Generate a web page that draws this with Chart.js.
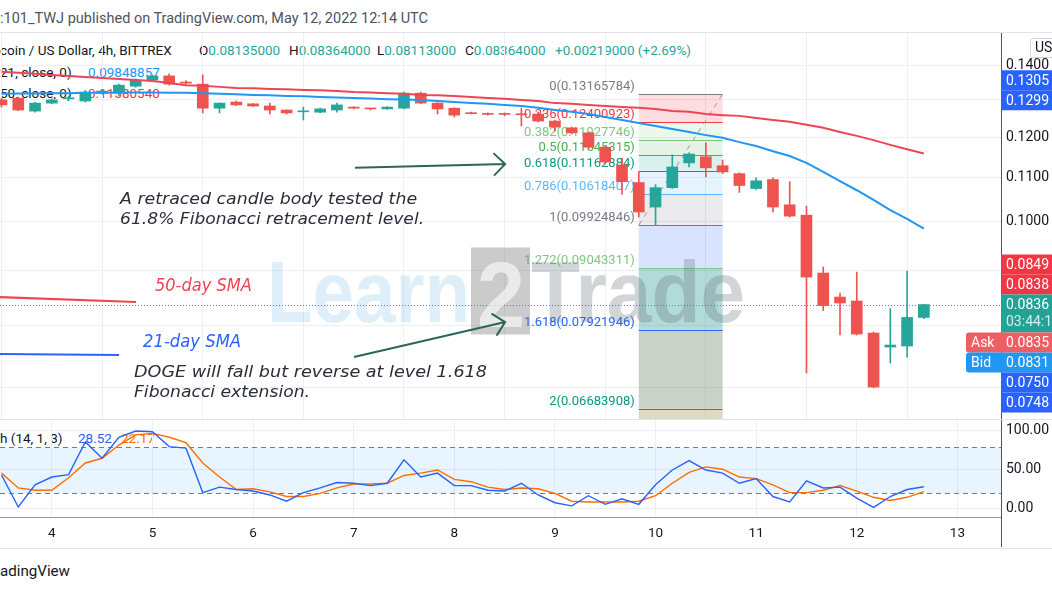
<!DOCTYPE html>
<html>
<head>
<meta charset="utf-8">
<title>DOGE / US Dollar, 4h</title>
<script src="https://cdn.jsdelivr.net/npm/chart.js@4.4.1/dist/chart.umd.min.js"></script>
<style>
  html, body { margin: 0; padding: 0; background: #fff; }
  #page { position: relative; width: 1052px; height: 592px; overflow: hidden;
          font-family: Roboto, "Noto Sans", sans-serif; color: #131722; }
  .t { position: absolute; white-space: nowrap; line-height: 1; font-size: 13.5px; }
  .hl { position: absolute; left: 0; width: 1052px; height: 1px; background: #e0e3eb; }
  canvas { position: absolute; left: 0; }
  .up { color: #26a69a; }
</style>
</head>
<body>
<div id="page">
  <div class="t" id="hdr" style="left:0;top:11px;font-size:14px;color:#50535e;transform-origin:0 0">:101_TWJ published on TradingView.com, May 12, 2022 12:14 UTC</div>
  <div class="hl" style="top:32px"></div>

  <!-- legende oben links -->
  <div class="t" style="left:0;top:44px">coin / US Dollar, 4h, BITTREX</div>
  <div class="t" style="left:199px;top:44px">O<span class="up">0.08135000</span></div>
  <div class="t" style="left:289px;top:44px">H<span class="up">0.08364000</span></div>
  <div class="t" style="left:377px;top:44px">L<span class="up">0.08113000</span></div>
  <div class="t" style="left:465px;top:44px">C<span class="up">0.08364000</span></div>
  <div class="t up" style="left:555px;top:44px">+0.00219000 (+2.69%)</div>
  <div class="t" style="left:0;top:66px">21, close, 0)</div>
  <div class="t" style="left:88px;top:66px;color:#2196f3">0.09848857</div>
  <div class="t" style="left:0;top:87px">50, close, 0)</div>
  <div class="t" style="left:88px;top:87px;color:#f23645">0.11580540</div>

  <div class="t" style="left:0;top:432px">h (14, 1, 3)</div>
  <div class="t" style="left:78px;top:432px;color:#2962ff">28.52</div>
  <div class="t" style="left:121px;top:432px;color:#ff6d00">22.17</div>

  <canvas id="price" width="1052" height="386" style="top:33px"></canvas>
  <div class="hl" style="top:419px"></div>
  <canvas id="stoch" width="1052" height="130" style="top:419px"></canvas>
  <div style="position:absolute;left:1001px;top:517px;width:1px;height:30px;background:#50535e"></div>
  <div class="hl" style="top:548px"></div>
  <div class="t" id="ftr" style="left:0;top:564px;font-size:15px;transform-origin:0 0">adingView</div>
</div>

<script>
/* ---------- Daten ---------- */

// Tagesmarken auf der Zeitachse, in 4h-Kerzen ab 4. Mai 00:00
const dayTicks = [0, 6, 12, 18, 24, 30, 36, 42, 48, 54];
const dayLabels = ["4", "5", "6", "7", "8", "9", "10", "11", "12", "13"];
const firstCandle = -3;

const open = [0.1300, 0.1305, 0.1269, 0.1291, 0.1303, 0.1297, 0.1319, 0.1319, 0.1339, 0.1357,
  0.1369, 0.1351, 0.1345, 0.1277, 0.1294, 0.1289, 0.1283, 0.1272, 0.1267, 0.1266,
  0.1272, 0.1280, 0.1277, 0.1275, 0.1277, 0.1319, 0.1291, 0.1277, 0.1264, 0.1262,
  0.1261, 0.1261, 0.1261, 0.1242, 0.1224, 0.1211, 0.1174, 0.1130, 0.1088, 0.1032,
  0.1076, 0.1135, 0.1150, 0.1128, 0.1109, 0.1074, 0.1095, 0.1037, 0.1014, 0.08952,
  0.08500, 0.08428, 0.07866, 0.07632, 0.07649, 0.08135];
const high = [0.1305, 0.1308, 0.1294, 0.1303, 0.1311, 0.1327, 0.1330, 0.1345, 0.1360, 0.1372,
  0.1375, 0.1355, 0.1372, 0.1292, 0.1297, 0.1290, 0.1291, 0.1272, 0.1280, 0.1277,
  0.1291, 0.1281, 0.1277, 0.1281, 0.1322, 0.1322, 0.1292, 0.1278, 0.1266, 0.1264,
  0.1264, 0.1277, 0.1266, 0.1245, 0.1226, 0.1213, 0.1176, 0.1147, 0.1113, 0.1083,
  0.1155, 0.1160, 0.1185, 0.1142, 0.1111, 0.1099, 0.1099, 0.1090, 0.1034, 0.09069,
  0.08574, 0.08971, 0.07883, 0.08291, 0.08990, 0.08364];
const low = [0.1280, 0.1270, 0.1266, 0.1289, 0.1298, 0.1294, 0.1316, 0.1311, 0.1336, 0.1355,
  0.1342, 0.1345, 0.1264, 0.1264, 0.1284, 0.1282, 0.1261, 0.1261, 0.1245, 0.1264,
  0.1266, 0.1275, 0.1272, 0.1274, 0.1275, 0.1289, 0.1261, 0.1253, 0.1261, 0.1258,
  0.1256, 0.1229, 0.1240, 0.1215, 0.1208, 0.1170, 0.1132, 0.1061, 0.1010, 0.09925,
  0.1074, 0.1125, 0.1101, 0.1109, 0.1065, 0.1072, 0.1021, 0.1010, 0.07216, 0.08256,
  0.07832, 0.07832, 0.06990, 0.07373, 0.07469, 0.08113];
const close = [0.1286, 0.1272, 0.1291, 0.1300, 0.1306, 0.1322, 0.1325, 0.1342, 0.1357, 0.1369,
  0.1345, 0.1348, 0.1277, 0.1291, 0.1286, 0.1283, 0.1272, 0.1264, 0.1269, 0.1275,
  0.1286, 0.1277, 0.1275, 0.1280, 0.1319, 0.1291, 0.1275, 0.1258, 0.1262, 0.1260,
  0.1260, 0.1259, 0.1242, 0.1226, 0.1211, 0.1174, 0.1137, 0.1090, 0.1021, 0.1076,
  0.1125, 0.1157, 0.1123, 0.1113, 0.1081, 0.1092, 0.1032, 0.1012, 0.08875, 0.08346,
  0.08392, 0.07849, 0.07001, 0.07665, 0.08135, 0.08364];

const sma21 = [0.1317, 0.1318, 0.1318, 0.1319, 0.1319, 0.1320, 0.1320, 0.1321, 0.1321, 0.1321,
  0.1320, 0.1320, 0.1319, 0.1317, 0.1316, 0.1314, 0.1313, 0.1311, 0.1310, 0.1308,
  0.1307, 0.1305, 0.1304, 0.1302, 0.1301, 0.1300, 0.1297, 0.1294, 0.1291, 0.1289,
  0.1286, 0.1283, 0.1278, 0.1272, 0.1267, 0.1261, 0.1253, 0.1245, 0.1237, 0.1229,
  0.1221, 0.1213, 0.1205, 0.1198, 0.1187, 0.1177, 0.1164, 0.1152, 0.1135, 0.1113,
  0.1091, 0.1070, 0.1048, 0.1025, 0.1006, 0.09849];
const sma50 = [0.1381, 0.1378, 0.1375, 0.1372, 0.1369, 0.1366, 0.1363, 0.1360, 0.1357, 0.1354,
  0.1348, 0.1342, 0.1340, 0.1337, 0.1334, 0.1333, 0.1331, 0.1330, 0.1328, 0.1327,
  0.1325, 0.1322, 0.1321, 0.1319, 0.1317, 0.1314, 0.1313, 0.1311, 0.1308, 0.1305,
  0.1303, 0.1300, 0.1297, 0.1291, 0.1289, 0.1286, 0.1283, 0.1280, 0.1278, 0.1275,
  0.1269, 0.1267, 0.1261, 0.1258, 0.1256, 0.1250, 0.1245, 0.1240, 0.1232, 0.1224,
  0.1213, 0.1203, 0.1192, 0.1180, 0.1169, 0.1158];

const stochK = [43.6, 2.6, 31, 41, 44, 86, 65, 92, 100, 99,
  80, 78, 21, 28, 25, 23, 18, 10, 21, 27,
  34, 33, 30, 33, 63, 41, 46, 30, 30, 24,
  23, 33, 18, 8, 4, 17, 6, 13, 6, 31,
  50, 62, 50, 46, 33, 39, 16, 9, 36, 27,
  28, 14, 2, 16, 25, 28.52];
const stochD = [46, 27, 24, 24, 40, 59, 65, 82, 95, 97,
  92, 85, 59, 41, 25, 26, 22, 16, 16, 20,
  27, 32, 32, 33, 43, 46, 50, 38, 35, 28,
  25, 27, 26, 20, 10, 9, 9, 9, 10, 17,
  33, 47, 54, 51, 41, 39, 31, 21, 21, 24,
  30, 23, 15, 11, 15, 22.17];

const priceTicks = [0.07, 0.08, 0.09, 0.10, 0.11, 0.12, 0.13, 0.14];
const stochTicks = [0, 50, 100];

// Fibonacci-Werkzeug: Hoch/Tief und Stufen
const fibLevels = [0, 0.236, 0.382, 0.5, 0.618, 0.786, 1, 1.272, 1.618, 2];
const fibHigh = 0.13165784, fibLow = 0.09924846;
const fibStart = 35, fibEnd = 40;
const lastPrice = 0.08364;

// Preis-Marken an der rechten Achse
const axisTags = [
  { text: "0.1305", price: 0.1305, kind: "range" },
  { text: "0.1299", price: 0.1299, kind: "range" },
  { text: "0.0849", price: 0.0849, kind: "down" },
  { text: "0.0838", price: 0.0838, kind: "down" },
  { text: "0.0836", sub: "03:44:18", price: 0.08364, kind: "last" },
  { text: "0.0835", side: "Ask", price: 0.0835, kind: "ask" },
  { text: "0.0831", side: "Bid", price: 0.0831, kind: "bid" },
  { text: "0.0750", price: 0.0750, kind: "range" },
  { text: "0.0748", price: 0.0748, kind: "range" },
];

/* ---------- Stil ---------- */

const GREEN = "#26a69a", RED = "#ef5350";
const GRID = "#eceff4", AXIS = "#50535e";
const TAG_BG = { range: "#2962ff", down: "#f23645", last: "#22a395", ask: "#f05d63", bid: "#2196f3" };
const FIB_LINE = ["#787b86", "#f23645", "#81c784", "#4caf50", "#089981", "#64b5f6", "#787b86", "#81c784", "#2962ff", "#089981"];
const FIB_FILL = [null, "rgba(242,54,69,0.17)", "rgba(129,199,132,0.15)", "rgba(76,175,80,0.15)",
  "rgba(8,153,129,0.15)", "rgba(100,181,246,0.17)", "rgba(120,123,134,0.15)",
  "rgba(41,98,255,0.18)", "rgba(0,137,123,0.30)", "rgba(80,110,70,0.31)"];
const FIB_BELOW = "rgba(150,140,80,0.33)";
const NOTE = "#2a2e39", ARROW = "#2b6656";
const AXIS_FONT = "14px Roboto, sans-serif";

Chart.defaults.font.family = "Roboto, 'Noto Sans', sans-serif";
Chart.defaults.font.size = 13;
Chart.defaults.color = "#131722";

const idx = open.map((_, k) => firstCandle + k);
const candleColors = close.map((c, k) => (c >= open[k] ? GREEN : RED));

function fitText(ctx, text, x, y, width, font, color) {
  ctx.save();
  ctx.font = font;
  ctx.fillStyle = color;
  ctx.textBaseline = "middle";
  const w = ctx.measureText(text).width;
  ctx.translate(x, y);
  ctx.scale(width / w, 1);
  ctx.fillText(text, 0, 0);
  ctx.restore();
}

function arrow(ctx, x1, y1, x2, y2) {
  const a = Math.atan2(y2 - y1, x2 - x1), L = 16, s = 0.78;
  ctx.beginPath();
  ctx.moveTo(x1, y1);
  ctx.lineTo(x2, y2);
  ctx.moveTo(x2 - L * Math.cos(a - s), y2 - L * Math.sin(a - s));
  ctx.lineTo(x2, y2);
  ctx.lineTo(x2 - L * Math.cos(a + s), y2 - L * Math.sin(a + s));
  ctx.stroke();
}

/* ---------- Zeichnungen im Preisbereich ---------- */

const fibPlugin = {
  id: "fib",
  beforeDatasetsDraw(chart) {
    const { ctx, chartArea: ca, scales: { x, y } } = chart;
    const xl = x.getPixelForValue(fibStart), xr = x.getPixelForValue(fibEnd);
    const lv = fibLevels.map((l) => fibHigh - l * (fibHigh - fibLow));
    const py = lv.map((p) => y.getPixelForValue(p));
    ctx.save();
    ctx.beginPath();
    ctx.rect(ca.left, ca.top, ca.right - ca.left, ca.bottom - ca.top);
    ctx.clip();
    for (let k = 1; k < lv.length; k++) {
      ctx.fillStyle = FIB_FILL[k];
      ctx.fillRect(xl, py[k - 1], xr - xl, py[k] - py[k - 1]);
    }
    ctx.fillStyle = FIB_BELOW;
    ctx.fillRect(xl, py[py.length - 1], xr - xl, ca.bottom - py[py.length - 1]);
    ctx.lineWidth = 1;
    lv.forEach((p, k) => {
      const yy = Math.round(py[k]) + 0.5;
      ctx.strokeStyle = FIB_LINE[k];
      ctx.beginPath();
      ctx.moveTo(xl, yy);
      ctx.lineTo(xr, yy);
      ctx.stroke();
      ctx.font = "13px Roboto, sans-serif";
      ctx.fillStyle = FIB_LINE[k];
      ctx.textAlign = "right";
      ctx.textBaseline = "bottom";
      ctx.fillText(fibLevels[k] + "(" + p.toFixed(8) + ")", xl - 4, yy - 1);
    });
    // gestrichelte Trendlinie des Werkzeugs
    ctx.strokeStyle = "#9598a1";
    ctx.setLineDash([5, 5]);
    ctx.beginPath();
    ctx.moveTo(xl, py[6]);
    ctx.lineTo(xr, py[0]);
    ctx.stroke();
    ctx.restore();
  },
  afterDatasetsDraw(chart) {
    const { ctx, chartArea: ca, scales: { x, y } } = chart;
    const P = (i, p) => [x.getPixelForValue(i), y.getPixelForValue(p)];
    ctx.save();
    ctx.beginPath();
    ctx.rect(ca.left, ca.top, ca.right - ca.left, ca.bottom - ca.top);
    ctx.clip();

    // letzte Kurslinie
    const ly = Math.round(y.getPixelForValue(lastPrice)) + 0.5;
    ctx.strokeStyle = GREEN;
    ctx.lineWidth = 1;
    ctx.setLineDash([1, 2]);
    ctx.beginPath();
    ctx.moveTo(ca.left, ly);
    ctx.lineTo(ca.right, ly);
    ctx.stroke();
    ctx.setLineDash([]);

    // Wasserzeichen
    const wy = ly - 8;
    fitText(ctx, "Learn", 267, wy, 203, "bold 88px 'Liberation Sans', Arial, sans-serif", "rgba(66,160,220,0.17)");
    ctx.fillStyle = "rgba(110,110,110,0.36)";
    ctx.fillRect(471, wy - 50, 59, 87);
    fitText(ctx, "2", 477, wy + 4, 48, "bold 92px 'Liberation Sans', Arial, sans-serif", "rgba(255,255,255,0.6)");
    fitText(ctx, "Trade", 531, wy, 214, "bold 88px 'Liberation Sans', Arial, sans-serif", "rgba(90,100,110,0.27)");

    // Hinweis-Linien fuer die SMAs
    ctx.lineWidth = 2;
    ctx.strokeStyle = "#ef4452";
    let a = P(-3.2, 0.0850), b = P(5.02, 0.08409);
    ctx.beginPath(); ctx.moveTo(a[0], a[1]); ctx.lineTo(b[0], b[1]); ctx.stroke();
    ctx.strokeStyle = "#2962ff";
    a = P(-3.2, 0.07518); b = P(4.01, 0.07502);
    ctx.beginPath(); ctx.moveTo(a[0], a[1]); ctx.lineTo(b[0], b[1]); ctx.stroke();

    // Pfeile
    ctx.strokeStyle = ARROW;
    ctx.lineWidth = 2;
    a = P(18.08, 0.1123); b = P(27.03, 0.1132);
    arrow(ctx, a[0], a[1], b[0], b[1]);
    a = P(18.02, 0.07469); b = P(27.03, 0.08054);
    arrow(ctx, a[0], a[1], b[0], b[1]);

    // Texte
    const nf = "italic 16px 'DejaVu Sans', sans-serif";
    let q = P(4.07, 0.1048); fitText(ctx, "A retraced candle body tested the", q[0], q[1], 297, nf, NOTE);
    q = P(4.07, 0.1004); fitText(ctx, "61.8% Fibonacci retracement level.", q[0], q[1], 304, nf, NOTE);
    q = P(4.90, 0.07216); fitText(ctx, "DOGE will fall but reverse at level 1.618", q[0], q[1], 353, nf, NOTE);
    q = P(4.90, 0.06912); fitText(ctx, "Fibonacci extension.", q[0], q[1], 176, nf, NOTE);
    q = P(6.15, 0.08686); fitText(ctx, "50-day SMA", q[0], q[1], 97, "italic 17px 'DejaVu Sans', sans-serif", "#ef4452");
    q = P(5.44, 0.07698); fitText(ctx, "21-day SMA", q[0], q[1], 98, "italic 17px 'DejaVu Sans', sans-serif", "#2962ff");
    ctx.restore();
  },
  afterDraw(chart) {
    const { ctx, chartArea: ca, scales: { y } } = chart;
    const H = 20, HL = 38;
    // Marken stapeln: letzte Kurs-Marke fest, die anderen weichen aus
    const ai = axisTags.findIndex((t) => t.kind === "last");
    const pos = axisTags.map(() => ({}));
    const cy = (t) => y.getPixelForValue(t.price);
    pos[ai].top = cy(axisTags[ai]) - H / 2;
    pos[ai].bottom = pos[ai].top + HL;
    for (let k = ai + 1; k < axisTags.length; k++) {
      pos[k].top = Math.max(cy(axisTags[k]) - H / 2, pos[k - 1].bottom);
      pos[k].bottom = pos[k].top + H;
    }
    for (let k = ai - 1; k >= 0; k--) {
      pos[k].bottom = Math.min(cy(axisTags[k]) + H / 2, pos[k + 1].top);
      pos[k].top = pos[k].bottom - H;
    }
    ctx.save();
    ctx.textBaseline = "middle";
    ctx.font = AXIS_FONT;
    axisTags.forEach((t, k) => {
      const p = pos[k], h = p.bottom - p.top;
      const x0 = t.side ? ca.right - 35 : ca.right;
      ctx.fillStyle = TAG_BG[t.kind];
      ctx.beginPath();
      if (t.side) ctx.roundRect(x0, p.top, chart.width - x0 + 4, h, [3, 0, 0, 3]);
      else ctx.rect(x0, p.top, chart.width - x0, h);
      ctx.fill();
      ctx.fillStyle = "#fff";
      ctx.textAlign = "left";
      if (t.side) ctx.fillText(t.side, x0 + 5, p.top + H / 2 + 1);
      ctx.fillText(t.text, ca.right + 5, p.top + H / 2 + 1);
      if (t.sub) {
        ctx.fillStyle = "rgba(255,255,255,0.8)";
        ctx.fillText(t.sub, ca.right + 5, p.top + H / 2 + 18);
      }
    });
    // Waehrungs-Knopf
    ctx.fillStyle = "#fff";
    ctx.strokeStyle = "#d1d4dc";
    ctx.beginPath();
    ctx.roundRect(ca.right + 29.5, 5.5, 32, 19, 3);
    ctx.fill();
    ctx.stroke();
    ctx.fillStyle = "#131722";
    ctx.fillText("USD", ca.right + 34, 15.5);
    ctx.restore();
  },
};

const stochPlugin = {
  id: "stochBand",
  beforeDatasetsDraw(chart) {
    const { ctx, chartArea: ca, scales: { y } } = chart;
    const y80 = Math.round(y.getPixelForValue(80)) + 0.5, y20 = Math.round(y.getPixelForValue(20)) + 0.5;
    ctx.save();
    ctx.fillStyle = "rgba(33,150,243,0.1)";
    ctx.fillRect(ca.left, y80, ca.right - ca.left, y20 - y80);
    ctx.strokeStyle = "#787b86";
    ctx.lineWidth = 1;
    ctx.setLineDash([5, 4]);
    [y80, y20].forEach((yy) => {
      ctx.beginPath();
      ctx.moveTo(ca.left, yy);
      ctx.lineTo(ca.right, yy);
      ctx.stroke();
    });
    ctx.restore();
  },
};

/* ---------- Achsen ---------- */

const X_MIN = -3.09, X_MAX = 56.6;

function timeAxis(showLabels) {
  return {
    type: "linear",
    min: X_MIN,
    max: X_MAX,
    offset: false,
    afterBuildTicks: (s) => { s.ticks = dayTicks.map((v) => ({ value: v })); },
    ticks: {
      display: showLabels,
      autoSkip: false,
      maxRotation: 0,
      padding: 9,
      font: { size: 13.5 },
      callback: (v) => dayLabels[dayTicks.indexOf(v)],
    },
    grid: { color: GRID, drawTicks: false },
    border: { display: showLabels, color: "#9598a1" },
    afterFit: (s) => { s.height = showLabels ? 32 : 0; s.paddingLeft = 0; s.paddingRight = 0; },
  };
}

function valueAxis(extra, fmt) {
  return Object.assign({
    position: "right",
    ticks: { autoSkip: false, padding: 5, color: "#131722", font: { size: 14 }, callback: fmt },
    grid: { color: GRID, drawTicks: false },
    border: { color: AXIS },
    afterFit: (s) => { s.width = 51; s.paddingTop = 0; s.paddingBottom = 0; },
  }, extra);
}

const common = {
  responsive: false,
  animation: false,
  devicePixelRatio: 1,
  events: [],
  plugins: { legend: { display: false }, tooltip: { enabled: false } },
};

new Chart(document.getElementById("price"), {
  type: "bar",
  data: {
    datasets: [
      { type: "line", label: "SMA 21", data: idx.map((x, k) => ({ x, y: sma21[k] })),
        borderColor: "#2196f3", borderWidth: 2, pointRadius: 0, order: 1 },
      { type: "line", label: "SMA 50", data: idx.map((x, k) => ({ x, y: sma50[k] })),
        borderColor: "#ef4452", borderWidth: 2, pointRadius: 0, order: 1 },
      { label: "Koerper", data: idx.map((x, k) => ({ x, y: [open[k], close[k]] })),
        backgroundColor: candleColors, barThickness: 11, minBarLength: 1, grouped: false, order: 2 },
      { label: "Docht", data: idx.map((x, k) => ({ x, y: [low[k], high[k]] })),
        backgroundColor: candleColors, barThickness: 1, grouped: false, order: 3 },
    ],
  },
  options: Object.assign({}, common, {
    layout: { padding: 0 },
    scales: {
      x: timeAxis(false),
      y: valueAxis({
        type: "logarithmic",
        min: 0.065357,
        max: 0.15016,
        afterBuildTicks: (s) => { s.ticks = priceTicks.map((v) => ({ value: v })); },
      }, (v) => v.toFixed(4)),
    },
  }),
  plugins: [fibPlugin],
});

new Chart(document.getElementById("stoch"), {
  type: "line",
  data: {
    datasets: [
      { label: "%K", data: idx.map((x, k) => ({ x, y: stochK[k] })),
        borderColor: "#2962ff", borderWidth: 1.4, pointRadius: 0 },
      { label: "%D", data: idx.map((x, k) => ({ x, y: stochD[k] })),
        borderColor: "#ff6d00", borderWidth: 1.4, pointRadius: 0 },
    ],
  },
  options: Object.assign({}, common, {
    layout: { padding: { top: 1 } },
    scales: {
      x: timeAxis(true),
      y: valueAxis({
        type: "linear",
        min: -10.26,
        max: 114.1,
        afterBuildTicks: (s) => { s.ticks = stochTicks.map((v) => ({ value: v })); },
      }, (v) => v.toFixed(2)),
    },
  }),
  plugins: [stochPlugin],
});

/* Kopf- und Fusszeile auf Breite bringen */
function fitEl(id, width) {
  const el = document.getElementById(id);
  el.style.transform = "scaleX(" + width / el.getBoundingClientRect().width + ")";
}
fitEl("hdr", 428);
fitEl("ftr", 70);
</script>
</body>
</html>
